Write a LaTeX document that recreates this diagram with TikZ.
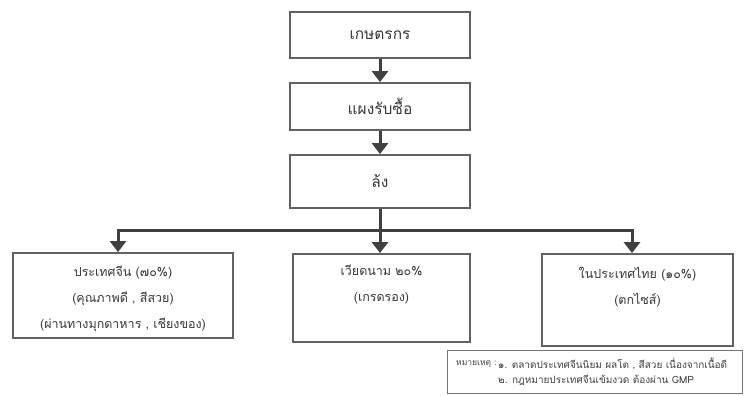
\documentclass[tikz,border=0pt]{standalone}
\usepackage{fontspec}
\newfontfamily\thaifont[Script=Thai]{Loma}
\usetikzlibrary{arrows.meta}
\tikzset{
  x=1pt, y=-1pt,
  boxstyle/.style={draw=black!62, line width=1.8pt, fill=white, inner sep=0pt, text=black!78, font=\thaifont\fontsize{15.5}{18}\selectfont},
  btext/.style={text=black!78, align=center, font=\thaifont\fontsize{12.5}{26}\selectfont, inner sep=0pt, anchor=north},
  flow/.style={draw=black!75, line width=3pt, -{Triangle[width=16pt,length=11pt]}},
  plain/.style={draw=black!75, line width=3pt},
  notebox/.style={draw=black!55, line width=1pt, fill=white, inner sep=0pt},
  ntext/.style={text=black!75, font=\thaifont\fontsize{10}{15}\selectfont, align=left, inner sep=0pt, anchor=west}
}
\begin{document}
\begin{tikzpicture}
\useasboundingbox[fill=white] (0,0) rectangle (747,396);
% main chain
\node[boxstyle, minimum width=180pt, minimum height=46pt] (b1) at (380,35) {เกษตรกร};
\node[boxstyle, minimum width=180pt, minimum height=47pt] (b2) at (380,106.5) {แผงรับซื้อ};
\node[boxstyle, minimum width=180pt, minimum height=53pt] (b3) at (380,181.5) {ล้ง};
% destination boxes
\node[boxstyle, minimum width=220pt, minimum height=85pt] (c1) at (123,295.5) {};
\node[boxstyle, minimum width=177pt, minimum height=88pt] (c2) at (381.5,298) {};
\node[boxstyle, minimum width=191pt, minimum height=92pt] (c3) at (637.5,300) {};
\node[btext] (t1) at ([yshift=-14pt]c1.north) {ประเทศจีน (๗๐\%)\\(คุณภาพดี , สีสวย)\\(ผ่านทางมุกดาหาร , เชียงของ)};
\node[btext] (t2) at ([yshift=-12pt]c2.north) {เวียดนาม ๒๐\%\\(เกรดรอง)};
\node[btext] (t3) at ([yshift=-14pt]c3.north) {ในประเทศไทย (๑๐\%)\\(ตกไซส์)};
% note
\node[notebox, minimum width=295pt, minimum height=43pt] (nb) at (594.5,371.5) {};
\node[ntext, font=\thaifont\fontsize{8.5}{15}\selectfont] (nh) at (456,364) {หมายเหตุ :};
\node[ntext] (n1) at (498,364) {๑. ตลาดประเทศจีนนิยม ผลโต , สีสวย เนื่องจากเนื้อดี};
\node[ntext] (n2) at (498,380) {๒. กฎหมายประเทศจีนเข้มงวด ต้องผ่าน GMP};
% connectors
\draw[flow] (b1.south) -- (b2.north);
\draw[flow] (b2.south) -- (b3.north);
\coordinate (j) at (380,230);
\draw[plain] (b3.south) -- (j);
\coordinate (jl) at (118,230);
\coordinate (jr) at (632,230);
\draw[plain, line cap=rect] (jl) -- (jr);
\draw[flow] (jl) -- (jl |- c1.north);
\draw[flow] (j) -- (j |- c2.north);
\draw[flow] (jr) -- (jr |- c3.north);
\end{tikzpicture}
\end{document}
